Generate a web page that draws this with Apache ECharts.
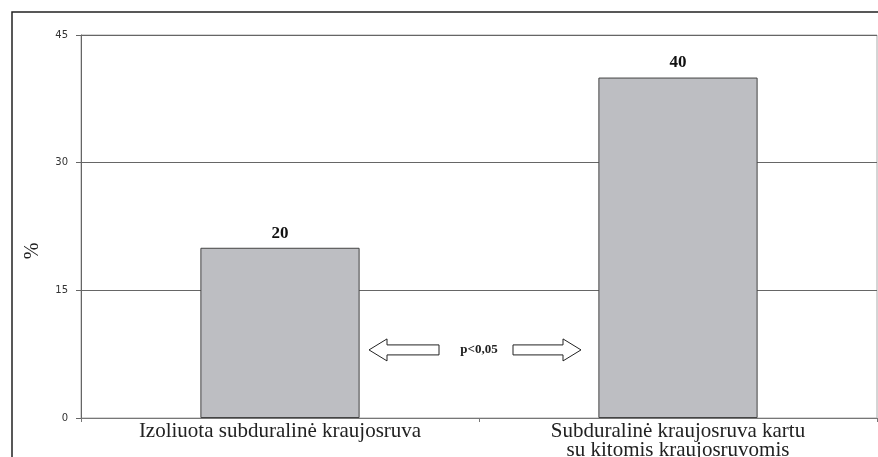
<!DOCTYPE html>
<html><head><meta charset="utf-8">
<script src="https://cdn.jsdelivr.net/npm/echarts@6/dist/echarts.min.js"></script>
<style>html,body{margin:0;padding:0;background:#fff}#c{width:878px;height:457px}</style>
</head><body><div id="c"></div>
<script>
var categories = ['Izoliuota subduralinė kraujosruva', 'Subduralinė kraujosruva kartu\nsu kitomis kraujosruvomis'];
var values = [20, 40];
var yTicks = [0, 15, 30, 45];
var yName = '%';
var pText = 'p<0,05';

var chart = echarts.init(document.getElementById('c'), null, {renderer: 'canvas'});
var serif = '"Liberation Serif", "DejaVu Serif", serif';
var border = {type: 'rect', shape: {x: 12, y: 12, width: 880, height: 460}, style: {fill: 'none', stroke: '#222', lineWidth: 1.5}, silent: true};
var nameText = {type: 'text', x: 33, y: 251, rotation: Math.PI / 2, style: {text: yName, x: 0, y: 0, align: 'center', verticalAlign: 'middle', font: '20px ' + serif, fill: '#222'}};
chart.setOption({
  animation: false,
  grid: {left: 81, right: 1, top: 35, bottom: 39, show: true, borderColor: '#aaa', borderWidth: 1, containLabel: false, outerBoundsMode: 'none'},
  xAxis: {
    type: 'category', data: categories,
    axisLine: {lineStyle: {color: '#777'}},
    axisTick: {show: true, length: 4, lineStyle: {color: '#777'}},
    axisLabel: {fontFamily: serif, fontSize: 21, color: '#222', margin: 4, lineHeight: 19, interval: 0}
  },
  yAxis: {
    type: 'value', min: yTicks[0], max: yTicks[yTicks.length - 1], interval: 15,
    axisLine: {show: true, lineStyle: {color: '#666'}},
    axisTick: {show: true, length: 5, lineStyle: {color: '#666'}},
    axisLabel: {fontFamily: '"DejaVu Sans", sans-serif', fontSize: 10, color: '#333', margin: 13},
    splitLine: {show: true, lineStyle: {color: '#666', width: 1}}
  },
  series: [{
    type: 'bar', data: values, barWidth: '40%',
    itemStyle: {color: '#bdbec2', borderColor: '#444', borderWidth: 1},
    label: {show: true, position: 'top', distance: 6, fontFamily: serif, fontWeight: 'bold', fontSize: 17, color: '#111'}
  }],
  graphic: [border, nameText]
});

// p-value annotation with arrows, positioned relative to the axes
var yMid = chart.convertToPixel({yAxisIndex: 0}, 8);
var x0 = chart.convertToPixel({xAxisIndex: 0}, 0);
var x1 = chart.convertToPixel({xAxisIndex: 0}, 1);
var cx = (x0 + x1) / 2;
function arrowPts(xs, xe, y, dir) {
  var hw = 11, sh = 5, hl = 18;
  var xb = xe - dir * hl;
  return [[xs, y - sh], [xb, y - sh], [xb, y - hw], [xe, y], [xb, y + hw], [xb, y + sh], [xs, y + sh]];
}
chart.setOption({
  graphic: [
    border, nameText,
    {type: 'polygon', shape: {points: arrowPts(cx - 40, cx - 110, yMid, -1)}, style: {fill: '#fff', stroke: '#222', lineWidth: 1}},
    {type: 'polygon', shape: {points: arrowPts(cx + 34, cx + 102, yMid, 1)}, style: {fill: '#fff', stroke: '#222', lineWidth: 1}},
    {type: 'text', x: cx, y: yMid, style: {text: pText, x: 0, y: 0, align: 'center', verticalAlign: 'middle', font: 'bold 13px ' + serif, fill: '#222'}}
  ]
});
</script>
</body></html>
